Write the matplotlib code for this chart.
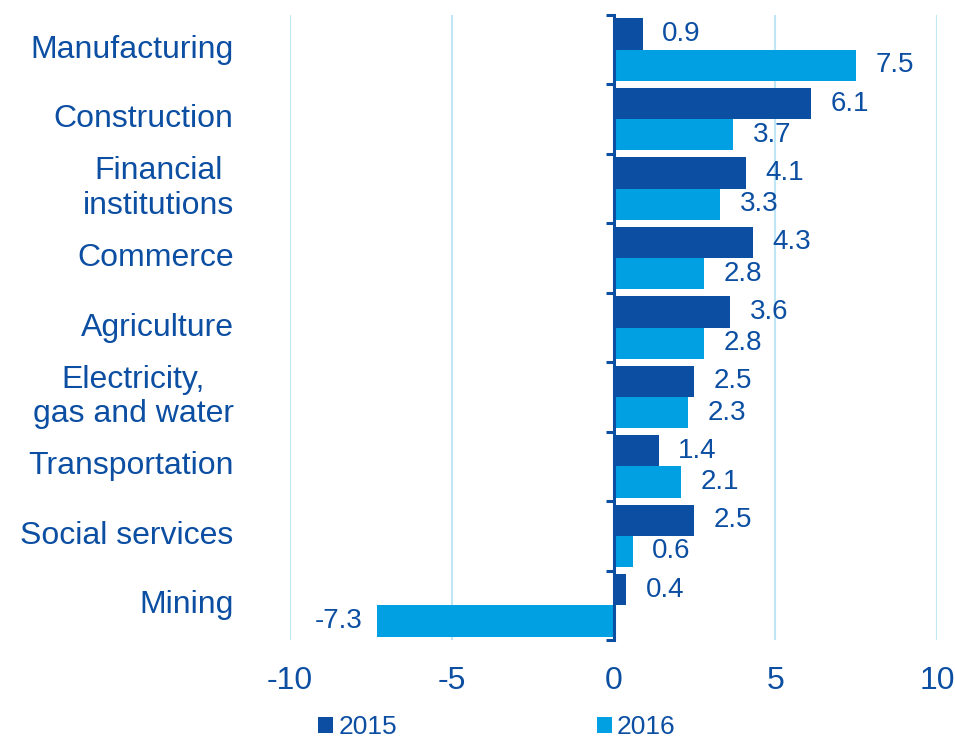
import matplotlib.pyplot as plt
import numpy as np

plt.rcParams['font.family'] = ['Liberation Sans', 'DejaVu Sans']

categories = ['Manufacturing', 'Construction', 'Financial\ninstitutions', 'Commerce',
              'Agriculture', 'Electricity,\ngas and water', 'Transportation',
              'Social services', 'Mining']
vals_2015 = [0.9, 6.1, 4.1, 4.3, 3.6, 2.5, 1.4, 2.5, 0.4]
vals_2016 = [7.5, 3.7, 3.3, 2.8, 2.8, 2.3, 2.1, 0.6, -7.3]
series_names = ['2015', '2016']

dark = '#0b4ea2'
light = '#00a0e3'
grid_col = '#bfe6f4'

fig = plt.figure(figsize=(9.55, 7.41), dpi=100)
ax = fig.add_axes([290 / 955, 101 / 741, 647 / 955, 625 / 741])

y = np.arange(len(categories))
h = 0.45
b1 = ax.barh(y - h / 2, vals_2015, height=h, color=dark, label=series_names[0], zorder=3)
b2 = ax.barh(y + h / 2, vals_2016, height=h, color=light, label=series_names[1], zorder=3)

# value labels
for bars, vals in [(b1, vals_2015), (b2, vals_2016)]:
    for bar, v in zip(bars, vals):
        yc = bar.get_y() + bar.get_height() / 2
        if v >= 0:
            ax.annotate(f'{v:.1f}', (v, yc), xytext=(14, 0), textcoords='offset points',
                        ha='left', va='center', fontsize=20, color=dark)
        else:
            ax.annotate(f'{v:.1f}', (v, yc), xytext=(-11, 0), textcoords='offset points',
                        ha='right', va='center', fontsize=20, color=dark)

ax.set_xlim(-10, 10)
ax.set_ylim(len(categories) - 0.5, -0.5)
ax.set_xticks([-10, -5, 0, 5, 10])
ax.set_xticklabels(['-10', '-5', '0', '5', '10'], fontsize=23, color=dark)
ax.tick_params(axis='x', length=0, pad=19)

for gx in [-10, -5, 5, 10]:
    ax.axvline(gx, color=grid_col, lw=1.5, zorder=0)

for s in ['top', 'right', 'bottom']:
    ax.spines[s].set_visible(False)
ax.spines['left'].set_position(('data', 0))
ax.spines['left'].set_color(dark)
ax.spines['left'].set_linewidth(2.2)
ax.spines['left'].set_zorder(4)

ax.set_yticks(np.arange(len(categories) + 1) - 0.5)
ax.set_yticklabels([])
ax.tick_params(axis='y', length=6, width=2.2, color=dark, direction='out')

for yi, name in zip(y, categories):
    ax.text(-0.087, yi, name, transform=ax.get_yaxis_transform(), ha='right', va='center',
            multialignment='center', fontsize=23, color=dark, linespacing=1.2)

leg = ax.legend(loc='center', bbox_to_anchor=(0.32, -0.14), ncol=2, frameon=False,
                fontsize=19, handlelength=0.55, handleheight=0.55, handletextpad=0.2,
                columnspacing=7.6, borderaxespad=0, borderpad=0)
for t in leg.get_texts():
    t.set_color(dark)

fig.savefig('out.png', dpi=100)
